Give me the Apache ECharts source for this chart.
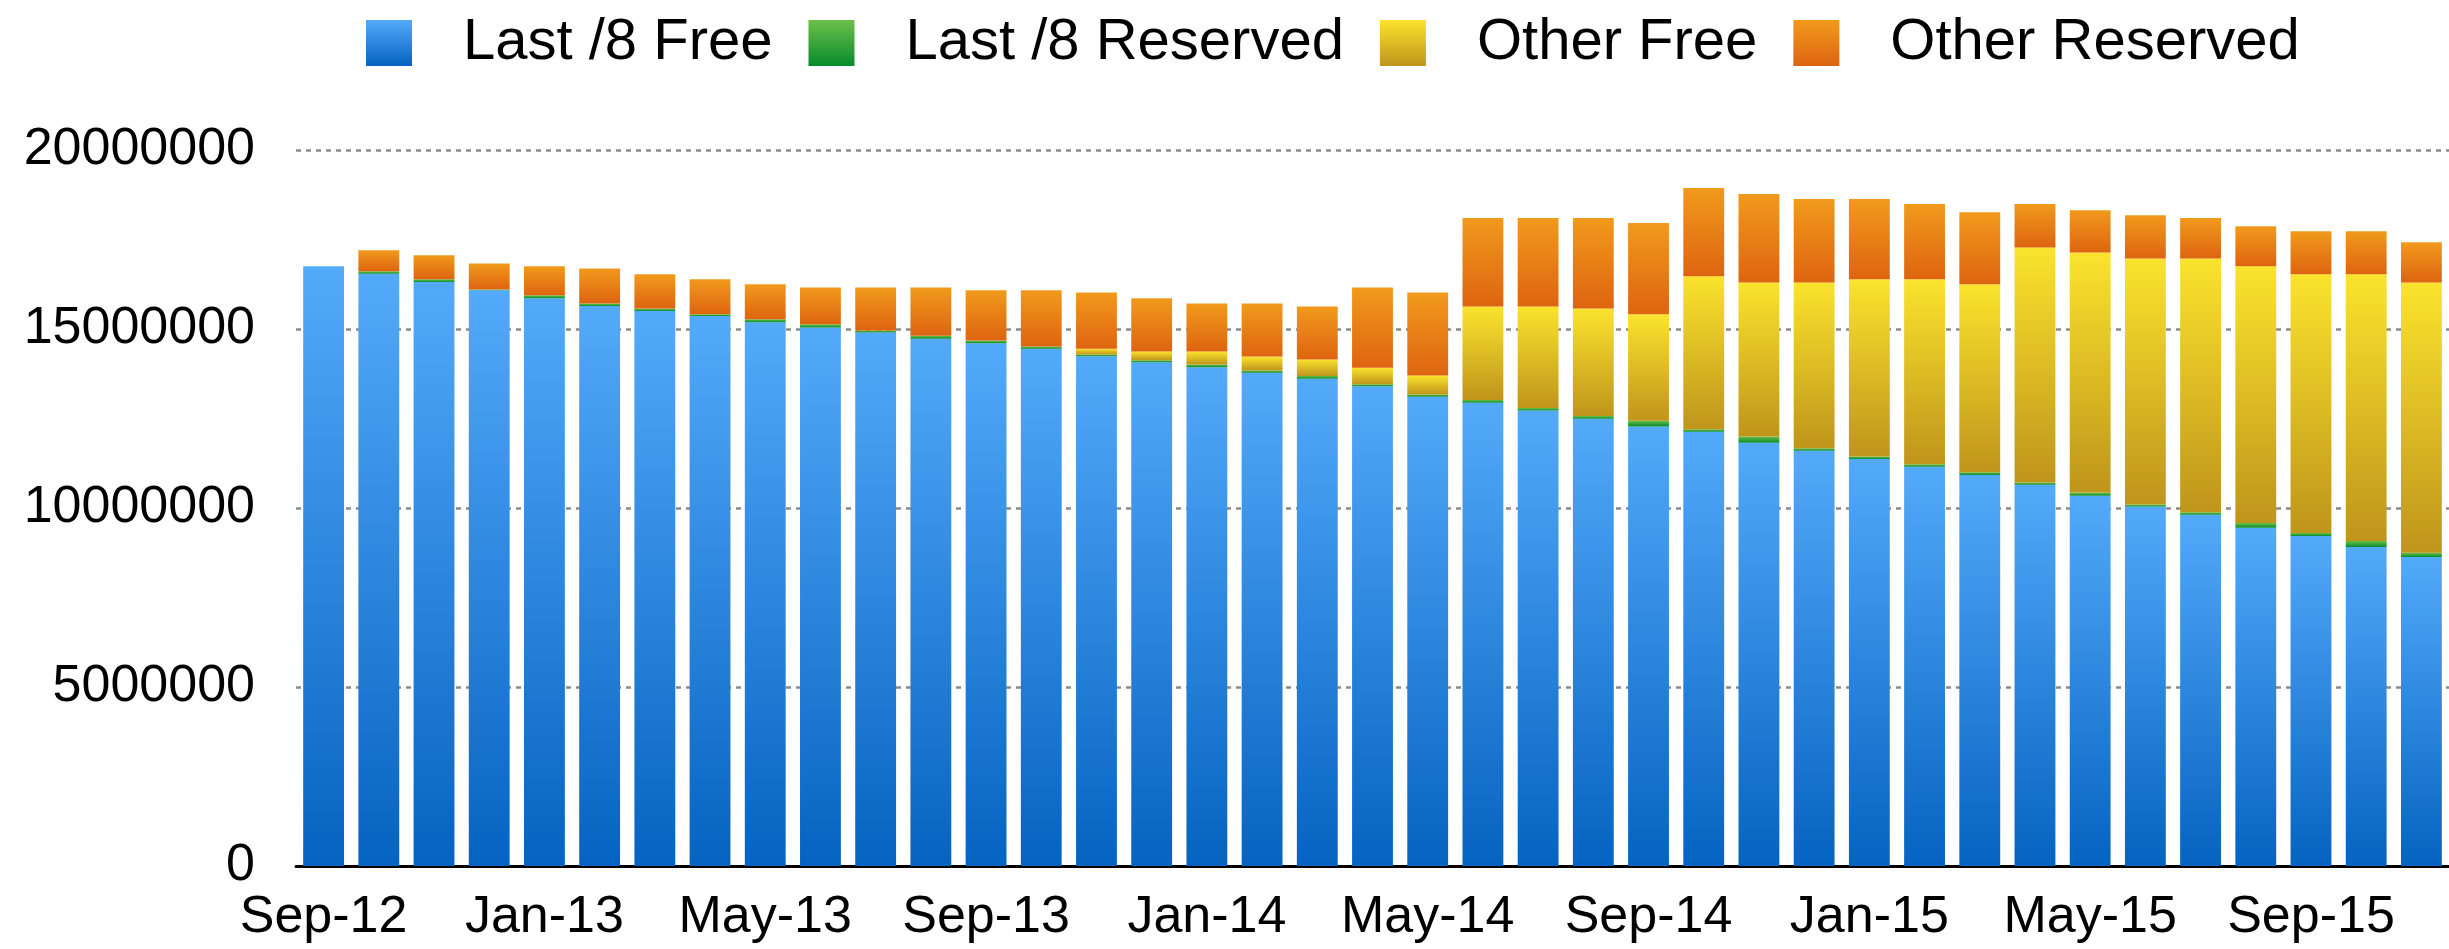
<!DOCTYPE html>
<html>
<head>
<meta charset="utf-8">
<title>IPv4 free / reserved</title>
<script src="https://cdn.jsdelivr.net/npm/echarts@6/dist/echarts.min.js"></script>
<style>
  html, body { margin: 0; padding: 0; background: #fff; }
  #chart { width: 2449px; height: 949px; }
</style>
</head>
<body>
<div id="chart"></div>
<script>
// 月份（类目轴）
var months = [
  "Sep-12", "Oct-12", "Nov-12", "Dec-12",
  "Jan-13", "Feb-13", "Mar-13", "Apr-13", "May-13", "Jun-13", "Jul-13", "Aug-13", "Sep-13", "Oct-13", "Nov-13", "Dec-13",
  "Jan-14", "Feb-14", "Mar-14", "Apr-14", "May-14", "Jun-14", "Jul-14", "Aug-14", "Sep-14", "Oct-14", "Nov-14", "Dec-14",
  "Jan-15", "Feb-15", "Mar-15", "Apr-15", "May-15", "Jun-15", "Jul-15", "Aug-15", "Sep-15", "Oct-15", "Nov-15"
];

// 各系列数值（单位：地址数）
var last8Free = [
  16750000, 16540000, 16310000, 16080000,
  15860000, 15640000, 15500000, 15360000, 15190000, 15040000, 14900000, 14730000, 14600000, 14450000, 14240000, 14070000,
  13930000, 13780000, 13610000, 13400000, 13110000, 12940000, 12720000, 12490000, 12280000, 12130000, 11820000, 11600000,
  11370000, 11150000, 10920000, 10650000, 10340000, 10040000, 9810000, 9450000, 9220000, 8910000, 8630000
];
var last8Reserved = [
  0, 70000, 80000, 20000,
  80000, 70000, 70000, 50000, 80000, 90000, 60000, 80000, 80000, 60000, 50000, 60000,
  80000, 60000, 80000, 60000, 60000, 80000, 70000, 80000, 160000, 70000, 180000, 70000,
  70000, 70000, 80000, 60000, 90000, 60000, 70000, 130000, 80000, 170000, 120000
];
var otherFree = [
  0, 0, 0, 0,
  0, 0, 0, 0, 0, 0, 0, 0, 0, 0, 160000, 240000,
  360000, 390000, 460000, 460000, 530000, 2610000, 2840000, 3000000, 2970000, 4270000, 4300000, 4630000,
  4950000, 5170000, 5250000, 6570000, 6710000, 6870000, 7090000, 7170000, 7230000, 7450000, 7550000
];
var otherReserved = [
  0, 590000, 670000, 730000,
  810000, 980000, 960000, 980000, 980000, 1030000, 1200000, 1350000, 1400000, 1570000, 1570000, 1490000,
  1340000, 1480000, 1480000, 2240000, 2320000, 2470000, 2470000, 2530000, 2550000, 2470000, 2470000, 2330000,
  2240000, 2100000, 2010000, 1210000, 1180000, 1210000, 1130000, 1120000, 1200000, 1200000, 1120000
];

var seriesNames = ["Last /8 Free", "Last /8 Reserved", "Other Free", "Other Reserved"];
var fontFamily = '"Helvetica Neue", "Liberation Sans", Arial, sans-serif';

// 竖直渐变：上浅下深
function grad(top, bottom) {
  return new echarts.graphic.LinearGradient(0, 0, 0, 1, [
    { offset: 0, color: top },
    { offset: 1, color: bottom }
  ]);
}

function barSeries(name, data, colorTop, colorBottom) {
  return {
    name: name,
    type: "bar",
    stack: "total",
    barCategoryGap: "26%",
    data: data,
    itemStyle: { color: grad(colorTop, colorBottom) }
  };
}

var myChart = echarts.init(document.getElementById("chart"));

var option = {
  animation: false,
  backgroundColor: "#fff",
  legend: {
    left: 361,
    top: 9,
    itemWidth: 46,
    itemHeight: 46,
    itemGap: 36,
    icon: "rect",
    data: seriesNames,
    textStyle: {
      fontSize: 58,
      fontFamily: fontFamily,
      color: "#000",
      padding: [0, 0, 0, 46]
    }
  },
  grid: {
    left: 296,
    top: 150,
    width: 2161,
    height: 716
  },
  xAxis: {
    type: "category",
    data: months,
    axisTick: { show: false },
    axisLine: { lineStyle: { color: "#000", width: 3 } },
    axisLabel: {
      interval: 3,
      margin: 26,
      fontSize: 52,
      fontFamily: fontFamily,
      color: "#000"
    }
  },
  yAxis: {
    type: "value",
    min: 0,
    max: 20000000,
    interval: 5000000,
    axisLine: { show: false },
    axisTick: { show: false },
    axisLabel: {
      margin: 41,
      fontSize: 52,
      fontFamily: fontFamily,
      color: "#000",
      // 不要千分位逗号
      formatter: function (v) { return String(v); }
    },
    splitLine: {
      lineStyle: { color: "#8a8a8a", width: 2.5, type: [5, 5] }
    }
  },
  series: [
    barSeries(seriesNames[0], last8Free, "#54aafa", "#0563c1"),
    barSeries(seriesNames[1], last8Reserved, "#6cc04a", "#078a2c"),
    barSeries(seriesNames[2], otherFree, "#fbe32d", "#bf951b"),
    barSeries(seriesNames[3], otherReserved, "#f19a1c", "#de6410")
  ]
};

myChart.setOption(option, true);

window.addEventListener("resize", function () {
  myChart.resize();
});
</script>
</body>
</html>
